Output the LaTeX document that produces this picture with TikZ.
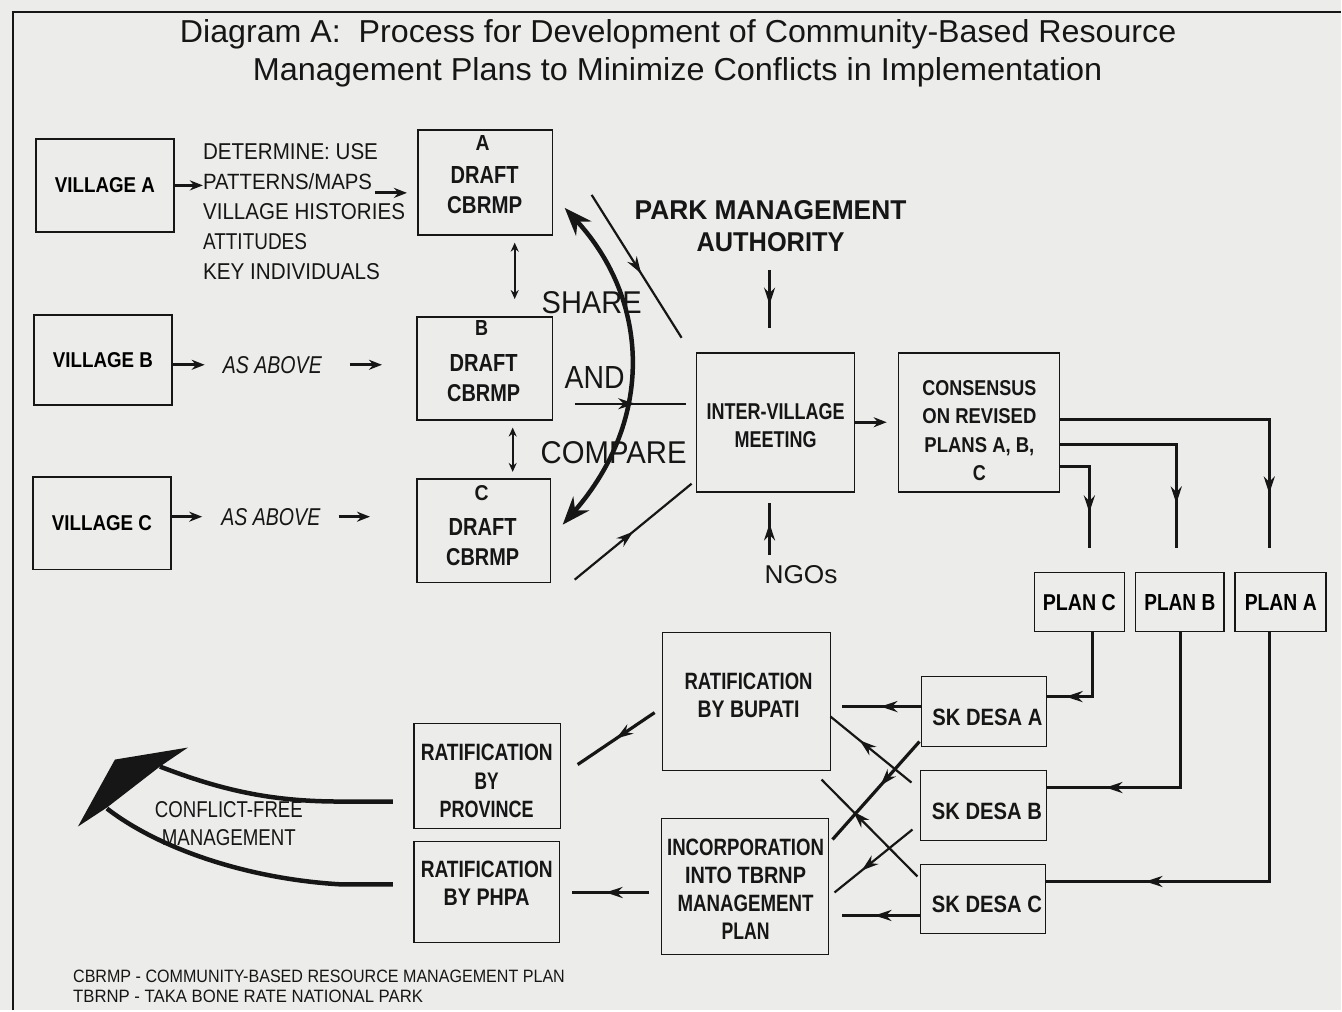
\documentclass[tikz,border=0pt]{standalone}
\usepackage{fontspec}
\setmainfont{Liberation Sans}
\usetikzlibrary{arrows.meta,decorations.markings}
\definecolor{paper}{RGB}{236,236,234}
\definecolor{ink}{RGB}{22,22,22}
% one line of text, stretched to a given width and cap height
\newcommand\T[3]{\pgfmathsetmacro\tfs{#2*1.4}\resizebox{#1pt}{#2pt}{\fontsize{\tfs pt}{\tfs pt}\selectfont #3}}
\newcommand\TB[3]{\T{#1}{#2}{\bfseries #3}}
\begin{document}
\begin{tikzpicture}[x=1pt,y=-1pt,
  bx/.style={draw=ink, line width=1.6pt, inner sep=0pt},
  tx/.style={inner sep=0pt, align=center, text=ink},
  ls/.style={font=\fontsize{10pt}{#1pt}\selectfont},
  arr/.style={draw=ink, line width=3pt, -{Stealth[length=13pt,width=10pt]}},
  dbl/.style={draw=ink, line width=2.2pt, {Stealth[length=9pt,width=8pt]}-{Stealth[length=9pt,width=8pt]}},
  ln/.style={draw=ink, line width=2.2pt},
  thk/.style={draw=ink, line width=3.2pt},
  mid/.style={decoration={markings, mark=at position #1 with {\arrow{Stealth[length=17pt,width=11pt]}}}, postaction={decorate}},
  curv/.style={draw=ink, line width=4.5pt, {Stealth[length=28pt,width=21pt]}-{Stealth[length=28pt,width=21pt]}},
  cfl/.style={draw=ink, line width=4.5pt}]

% sheet and frame
\fill[paper] (0,0) rectangle (1342,1011);
\draw[ink, line width=1.6pt] (13,1011) -- (13,12) -- (1342,12);

% title
\node[tx, anchor=base] (t1) at (678.5,43) {\T{997}{23}{Diagram A:\ \ Process for Development of Community-Based Resource}};
\node[tx, anchor=base] (t2) at (678,81) {\T{850}{23}{Management Plans to Minimize Conflicts in Implementation}};

% villages
\node[bx, minimum width=138pt, minimum height=93pt] (va) at (105,185.5) {\TB{100}{15}{VILLAGE A}};
\node[bx, minimum width=138pt, minimum height=90pt] (vb) at (103,360) {\TB{100}{15}{VILLAGE B}};
\node[bx, minimum width=138pt, minimum height=93pt] (vc) at (102,523.5) {\TB{100}{15}{VILLAGE C}};

\node[tx, align=left, anchor=west, ls=30] (det) at (203,212) {\T{175}{16}{DETERMINE: USE}\\\T{169}{16}{PATTERNS/MAPS}\\\T{202}{16}{VILLAGE HISTORIES}\\\T{104}{16}{ATTITUDES}\\\T{177}{16}{KEY INDIVIDUALS}};
\node[tx] (asB) at (272.5,365) {\T{99}{17}{\itshape AS ABOVE}};
\node[tx] (asC) at (271,517) {\T{99}{17}{\itshape AS ABOVE}};

% draft plans
\node[bx, minimum width=135pt, minimum height=105pt] (da) at (485.5,182.5) {};
\node[tx] (daL) at (483,143) {\TB{14}{15}{A}};
\node[tx, ls=30] (daT) at (485,190) {\TB{68}{17}{DRAFT}\\\TB{75}{17}{CBRMP}};
\node[bx, minimum width=136pt, minimum height=103pt] (db) at (485,368.5) {};
\node[tx] (dbL) at (482,328) {\TB{13}{15}{B}};
\node[tx, ls=30] (dbT) at (484,378) {\TB{68}{17}{DRAFT}\\\TB{73}{17}{CBRMP}};
\node[bx, minimum width=134pt, minimum height=104pt] (dc) at (484,531) {};
\node[tx] (dcL) at (482,493) {\TB{14}{15}{C}};
\node[tx, ls=30] (dcT) at (483,542.5) {\TB{68}{17}{DRAFT}\\\TB{73}{17}{CBRMP}};

\node[tx] (share) at (592,303) {\T{100}{22}{SHARE}};
\node[tx] (and) at (595,378) {\T{60}{22}{AND}};
\node[tx] (compare) at (614,453) {\T{146}{22}{COMPARE}};

% meeting
\node[tx, ls=32] (pma) at (771,226) {\TB{272}{19}{PARK MANAGEMENT}\\\TB{148}{19}{AUTHORITY}};
\node[bx, minimum width=158pt, minimum height=139pt] (iv) at (776,422.5) {};
\node[tx, ls=28] (ivT) at (776,426) {\TB{138}{16}{INTER-VILLAGE}\\\TB{82}{16}{MEETING}};
\node[tx] (ngo) at (801.5,575) {\T{73}{18}{NGOs}};

\node[bx, minimum width=161pt, minimum height=139pt] (cs) at (979.5,422.5) {};
\node[tx, ls=28.3] (csT) at (980,431) {\TB{114}{15}{CONSENSUS}\\\TB{114}{15}{ON REVISED}\\\TB{110}{15}{PLANS A, B,}\\\TB{13}{15}{C}};

% revised plans
\node[bx, minimum width=90pt, minimum height=59pt] (pc) at (1080,602.5) {\TB{73}{16}{PLAN C}};
\node[bx, minimum width=89pt, minimum height=59pt] (pb) at (1180.5,602.5) {\TB{71}{16}{PLAN B}};
\node[bx, minimum width=91pt, minimum height=59pt] (pa) at (1281.5,602.5) {\TB{72}{16}{PLAN A}};

% village decrees
\node[bx, minimum width=125pt, minimum height=70pt] (ska) at (984.5,712) {};
\node[tx] (skaT) at (988,718) {\TB{110}{16.5}{SK DESA A}};
\node[bx, minimum width=126pt, minimum height=70pt] (skb) at (984,806) {};
\node[tx] (skbT) at (987.5,812) {\TB{110}{16.5}{SK DESA B}};
\node[bx, minimum width=125pt, minimum height=69pt] (skc) at (983.5,899.5) {};
\node[tx] (skcT) at (987.5,905) {\TB{110}{16.5}{SK DESA C}};

% ratification
\node[bx, minimum width=168pt, minimum height=138pt] (bup) at (747,702) {};
\node[tx, ls=28] (bupT) at (749,696) {\TB{128}{16.5}{RATIFICATION}\\\TB{102}{16.5}{BY BUPATI}};
\node[bx, minimum width=167pt, minimum height=136pt] (inc) at (745.5,887) {};
\node[tx, ls=28] (incT) at (746,890) {\TB{157}{16.5}{INCORPORATION}\\\TB{121}{16.5}{INTO TBRNP}\\\TB{136}{16.5}{MANAGEMENT}\\\TB{48}{16.5}{PLAN}};
\node[bx, minimum width=147pt, minimum height=105pt] (prov) at (487.5,776.5) {};
\node[tx, ls=28.5] (provT) at (487,781.5) {\TB{132}{16.5}{RATIFICATION}\\\TB{24}{16.5}{BY}\\\TB{94}{16.5}{PROVINCE}};
\node[bx, minimum width=146pt, minimum height=101pt] (phpa) at (487,892.5) {};
\node[tx, ls=28] (phpaT) at (487,884) {\TB{132}{16.5}{RATIFICATION}\\\TB{86}{16.5}{BY PHPA}};

\node[tx, ls=28] (cf) at (229,824) {\T{148}{16}{CONFLICT-FREE}\\\T{134}{16}{MANAGEMENT}};

% abbreviations
\node[tx, align=left, anchor=west, ls=20] (leg) at (73,987) {\T{492}{12.5}{CBRMP - COMMUNITY-BASED RESOURCE MANAGEMENT PLAN}\\\T{350}{12.5}{TBRNP - TAKA BONE RATE NATIONAL PARK}};

% ---- connectors ----
\coordinate (detE) at (375,193);
\draw[arr] (va.east) -- (va.east -| det.west);
\draw[arr, shorten >=10pt] (detE) -- (detE -| da.west);
\draw[arr, shorten >=18pt] (vb.east |- asB.west) -- (asB.west);
\draw[arr, shorten <=28pt, shorten >=34pt] (asB.east) -- (asB.east -| db.west);
\draw[arr, shorten >=19pt] (vc.east |- asC.west) -- (asC.west);
\draw[arr, shorten <=18pt, shorten >=46pt] (asC.east) -- (asC.east -| dc.west);

\coordinate (ab) at (515,0);
\coordinate (bc) at (513,0);
\draw[dbl, shorten <=7pt, shorten >=17pt] (da.south -| ab) -- (db.north -| ab);
\draw[dbl, shorten <=7pt, shorten >=6pt] (db.south -| bc) -- (dc.north -| bc);

% share and compare
\coordinate (sc1) at (565,208);
\coordinate (sc2) at (563,525);
\draw[curv] (sc1) .. controls (650,300) and (655,420) .. (sc2);

% drafts into the meeting
\coordinate (u1) at (592,195);
\coordinate (u2) at (682,338);
\draw[ln, mid=0.55] (u1) -- (u2);
\coordinate (h1) at (575,404);
\draw[ln, mid=0.5, shorten >=10pt] (h1) -- (h1 -| iv.west);
\coordinate (l1) at (575,580);
\coordinate (l2) at (692,484);
\draw[ln, mid=0.5] (l1) -- (l2);

\coordinate (pmaS) at (770,270);
\coordinate (pmaE) at (770,328);
\draw[ln, mid=0.6] (pmaS) -- (pmaE);
\coordinate (ngoS) at (770,555);
\coordinate (ngoE) at (770,503);
\draw[ln, mid=0.6] (ngoS) -- (ngoE);

\draw[arr, shorten >=11pt] (iv.east) -- (iv.east -| cs.west);

% consensus to the three plans
\coordinate (r1) at (0,420);
\coordinate (r2) at (0,445);
\coordinate (r3) at (0,467);
\coordinate (k1) at (1270,548);
\coordinate (k2) at (1177,548);
\coordinate (k3) at (1090,548);
\draw[thk, mid=283pt] (r1 -| cs.east) -| (k1);
\draw[thk, mid=175pt] (r2 -| cs.east) -| (k2);
\draw[thk, mid=75pt] (r3 -| cs.east) -| (k3);

% plans to decrees
\coordinate (q1) at (1093,697);
\coordinate (q2) at (1181,788);
\coordinate (q3) at (1270,882);
\draw[thk, mid=91pt] (pc.south -| q1) |- (ska.east |- q1);
\draw[thk, mid=230pt] (pb.south -| q2) |- (skb.east |- q2);
\draw[thk, mid=373pt] (pa.south -| q3) |- (skc.east |- q3);

% decrees to ratification
\coordinate (w1) at (0,707);
\coordinate (w3) at (0,916);
\draw[thk, mid=0.45, shorten >=11pt] (w1 -| ska.west) -- (w1 -| bup.east);
\draw[thk, mid=0.5, shorten >=13pt] (w3 -| skc.west) -- (w3 -| inc.east);
\coordinate (x1s) at (912,783); \coordinate (x1e) at (831,717);
\coordinate (x2s) at (918,877); \coordinate (x2e) at (822,780);
\coordinate (x3s) at (920,742); \coordinate (x3e) at (833,840);
\coordinate (x4s) at (913,830); \coordinate (x4e) at (835,893);
\draw[ln, mid=0.64] (x1s) -- (x1e);
\draw[ln, mid=0.67] (x2s) -- (x2e);
\draw[thk, mid=0.45] (x3s) -- (x3e);
\draw[ln, mid=0.65] (x4s) -- (x4e);

\coordinate (b1) at (655,713);
\coordinate (b2) at (578,765);
\draw[thk, mid=0.5] (b1) -- (b2);
\coordinate (ip) at (0,893);
\draw[thk, mid=0.55, shorten <=12pt, shorten >=12pt] (ip -| inc.west) -- (ip -| phpa.east);

% towards conflict-free management
\coordinate (pv) at (0,802);
\coordinate (ph) at (0,885);
\coordinate (cfU) at (160,767);
\coordinate (cfL) at (107,809);
\draw[cfl, shorten <=20pt] (pv -| prov.west) -- (340,802) .. controls (270,802) and (220,790) .. (cfU);
\draw[cfl, shorten <=20pt] (ph -| phpa.west) -- (343,885) .. controls (250,880) and (160,850) .. (cfL);
\fill[ink] (115,760) -- (188,748) -- (160,767) -- (107,808) -- (78,827) -- cycle;
\end{tikzpicture}
\end{document}
